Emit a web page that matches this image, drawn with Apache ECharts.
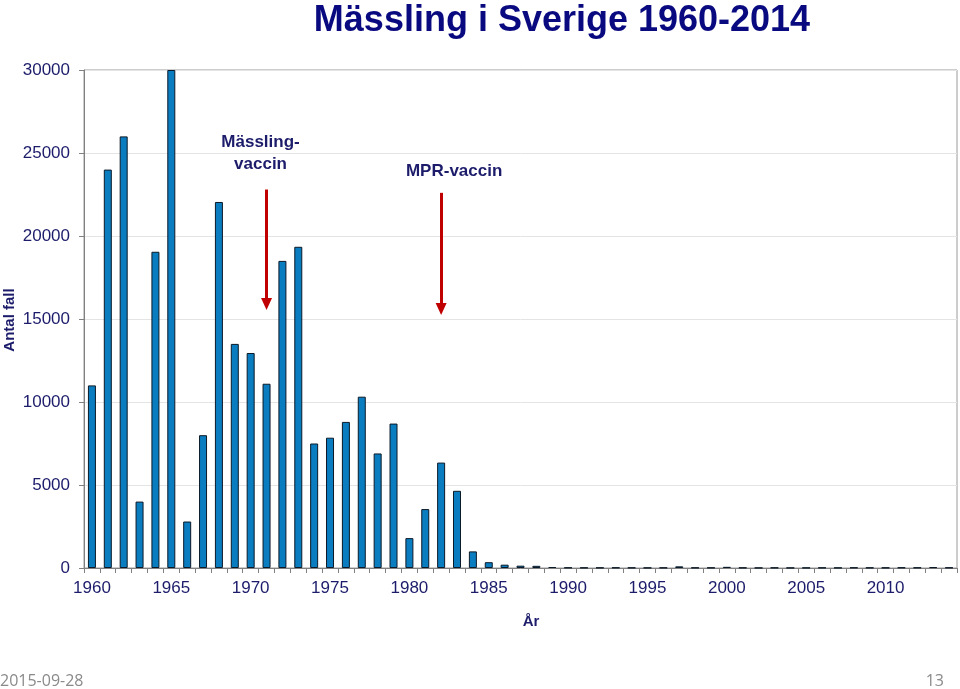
<!DOCTYPE html>
<html><head><meta charset="utf-8">
<script src="https://cdn.jsdelivr.net/npm/echarts@6/dist/echarts.min.js"></script>
<style>html,body{margin:0;padding:0;background:#fff}#c{width:960px;height:689px}</style>
</head><body><div id="c"></div>
<script>
const years = [];
for (let y = 1960; y <= 2014; y++) years.push(String(y));
const cases = [
  11000, 24000, 26000, 4000, 19050, 30000, 2800, 8000, 22050, 13500,
  12950, 11100, 18500, 19350, 7500, 7850, 8800, 10320, 6900, 8700,
  1800, 3550, 6350, 4650, 1000, 350, 200, 140, 130, 60,
  25, 20, 20, 25, 20, 15, 20, 100, 20, 20,
  70, 20, 10, 20, 10, 15, 20, 15, 25, 20,
  20, 30, 25, 50, 25
];
const yTicks = [0, 5000, 10000, 15000, 20000, 25000, 30000];
const arrows = [
  {year: '1971', from: 22800, to: 15900, text: 'Mässling-\nvaccin', textValue: 25000, dx: -6},
  {year: '1982', from: 22600, to: 15600, text: 'MPR-vaccin', textValue: 23900, dx: 13}
];

const navy = '#1c1c6b';
const chart = echarts.init(document.getElementById('c'), null, {renderer: 'canvas'});
chart.setOption({
  animation: false,
  title: {
    text: 'Mässling i Sverige 1960-2014',
    left: 557, top: -2, textAlign: 'center',
    textStyle: {fontFamily: 'Liberation Sans Narrow, Liberation Sans, Arial', fontWeight: 'bold', fontSize: 36, color: '#0a0a80'}
  },
  grid: {left: 84, right: 3, top: 70, bottom: 121, show: true, borderColor: '#9a9a9a', borderWidth: 1,
    containLabel: false, outerBoundsMode: 'none'},
  xAxis: {
    type: 'category', data: years,
    name: 'År', nameLocation: 'middle', nameGap: 46,
    nameTextStyle: {fontFamily: 'Liberation Sans, Arial', fontWeight: 'bold', fontSize: 15, color: navy, padding: [0, 0, 0, 21]},
    axisLine: {lineStyle: {color: '#808080'}},
    axisTick: {show: true, interval: 0, length: 5, lineStyle: {color: '#808080'}},
    axisLabel: {interval: 4, fontFamily: 'Liberation Sans, Arial', fontSize: 17, color: navy, margin: 12}
  },
  yAxis: {
    type: 'value', min: 0, max: 30000, interval: 5000,
    axisLine: {show: true, lineStyle: {color: '#808080'}},
    axisTick: {show: true, length: 5, lineStyle: {color: '#808080'}},
    splitLine: {lineStyle: {color: '#e4e4e4'}},
    axisLabel: {fontFamily: 'Liberation Sans, Arial', fontSize: 17, color: navy, margin: 14,
      formatter: v => yTicks.includes(v) ? String(v) : ''}
  },
  series: [{
    type: 'bar', data: cases, barWidth: 8,
    itemStyle: {color: '#0a7cc0', borderColor: '#0b1a28', borderWidth: 1},
    markLine: {
      silent: true, symbol: ['none', 'triangle'], symbolSize: [11, 12], symbolRotate: 180,
      lineStyle: {color: '#c00000', width: 3, type: 'solid'},
      label: {show: false},
      data: arrows.map(a => [{coord: [a.year, a.from]}, {coord: [a.year, a.to]}])
    }
  }],
  graphic: [
    {type: 'text', x: 10, y: 320, rotation: Math.PI / 2, style: {text: 'Antal fall', textAlign: 'center', textVerticalAlign: 'middle',
      font: 'bold 15px "Liberation Sans", Arial', fill: navy}},
    {type: 'text', left: 0, top: 673, style: {text: '2015-09-28', font: '16px "Open Sans"', fill: '#8a8a8a'}},
    {type: 'text', right: 16, top: 673, style: {text: '13', font: '16px "Open Sans"', fill: '#8a8a8a'}}
  ]
});
const g = chart.getOption().graphic[0].elements.slice();
arrows.forEach(a => {
  const p = chart.convertToPixel({seriesIndex: 0}, [a.year, a.textValue]);
  g.push({type: 'text', x: p[0] + a.dx, y: p[1], style: {
    text: a.text, textAlign: 'center', textVerticalAlign: 'middle',
    font: 'bold 17px "Liberation Sans", Arial', fill: navy, lineHeight: 22}});
});
chart.setOption({graphic: g});
</script>
</body></html>
